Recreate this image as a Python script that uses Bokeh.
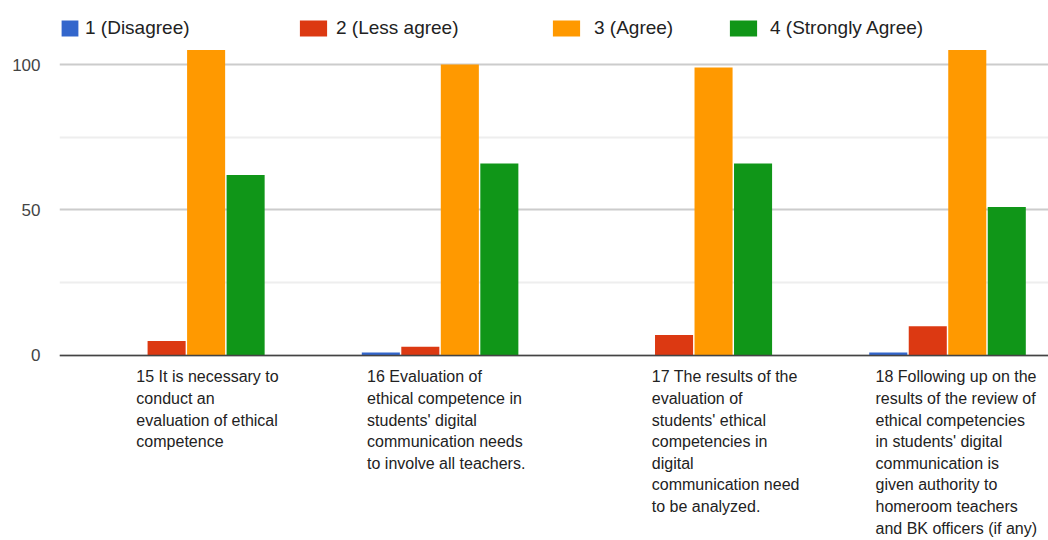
from bokeh.plotting import figure
from bokeh.models import (ColumnDataSource, Range1d, FixedTicker, Span, Legend, LegendItem)
from bokeh.core.properties import value
from bokeh.embed import file_html
from bokeh.resources import INLINE

# ---- data ----
questions = [
    "15 It is necessary to\nconduct an\nevaluation of ethical\ncompetence",
    "16 Evaluation of\nethical competence in\nstudents' digital\ncommunication needs\nto involve all teachers.",
    "17 The results of the\nevaluation of\nstudents' ethical\ncompetencies in\ndigital\ncommunication need\nto be analyzed.",
    "18 Following up on the\nresults of the review of\nethical competencies\nin students' digital\ncommunication is\ngiven authority to\nhomeroom teachers\nand BK officers (if any)",
]
series_names = ["1 (Disagree)", "2 (Less agree)", "3 (Agree)", "4 (Strongly Agree)"]
disagree = [0, 1, 0, 1]
less_agree = [5, 3, 7, 10]
agree = [105, 100, 99, 105]
strongly_agree = [62, 66, 66, 51]
y_ticks = [0, 50, 100]

# ---- style ----
colors = ["#3366cc", "#dc3912", "#ff9900", "#109618"]
FONT = "Liberation Sans"
pitch = 0.1557
bar_w = 0.15
label_dx = [-50, -73, -42, -72]          # px offsets of label blocks from group centre
legend_x = [0, 237, 490, 667]            # px from frame left
legend_glyph_w = [21, 34, 34, 34]
legend_standoff = [5, 6, 11, 10]

p = figure(width=1048, height=540, output_backend="svg", toolbar_location=None,
           x_range=Range1d(0, 3.898), y_range=Range1d(-63.6, 122.0),
           x_axis_location=None)
p.min_border_left = 59
p.min_border_right = 0
p.min_border_top = 0
p.min_border_bottom = 0
p.outline_line_color = None
p.background_fill_color = "white"
p.border_fill_color = "white"

# grid
ticker = FixedTicker(ticks=y_ticks, minor_ticks=[25, 75])
p.yaxis.ticker = ticker
p.ygrid.ticker = ticker
p.xgrid.visible = False
p.ygrid.grid_line_color = "#cccccc"
p.ygrid.grid_line_width = 2
p.ygrid.minor_grid_line_color = "#eeeeee"
p.ygrid.minor_grid_line_width = 2

ax = p.yaxis[0]
ax.axis_line_color = None
ax.major_tick_line_color = None
ax.minor_tick_line_color = None
ax.major_tick_out = 0
ax.major_tick_in = 0
ax.minor_tick_out = 0
ax.minor_tick_in = 0
ax.major_label_standoff = 19
ax.major_label_text_font = FONT
ax.major_label_text_font_size = "17px"
ax.major_label_text_color = "#444444"

# bars
groups = list(range(len(questions)))
all_series = [disagree, less_agree, agree, strongly_agree]
renderers = []
for k, vals in enumerate(all_series):
    xs = [g + 0.5 + (k - 1.5) * pitch for g in groups]
    src = ColumnDataSource(dict(x=xs, top=vals))
    r = p.vbar(x="x", top="top", bottom=0, width=bar_w, source=src,
               fill_color=colors[k], line_color=None)
    renderers.append(r)

# baseline
p.add_layout(Span(location=0, dimension="width", line_color="#444444", line_width=1.6))

# category labels (multi-line, left aligned)
lab_src = ColumnDataSource(dict(x=[g + 0.5 for g in groups], y=[0] * len(groups),
                                text=questions, dx=label_dx))
p.text(x="x", y="y", text="text", source=lab_src, x_offset="dx", y_offset=13,
       text_align="left", text_baseline="top", text_font=value(FONT),
       text_font_size="16px", text_color="#222222", text_line_height=1.27)

# legend
for k, r in enumerate(renderers):
    lg = Legend(items=[LegendItem(label=series_names[k], renderers=[r])],
                location=(legend_x[k], 501), orientation="horizontal",
                padding=0, margin=0, border_line_color=None,
                background_fill_alpha=0, glyph_width=legend_glyph_w[k],
                glyph_height=20, label_height=20,
                label_standoff=legend_standoff[k], label_text_font=FONT,
                label_text_font_size="19px", label_text_color="#222222",
                label_text_baseline="middle")
    p.add_layout(lg)

open("out.html", "w").write(file_html(p, INLINE))
